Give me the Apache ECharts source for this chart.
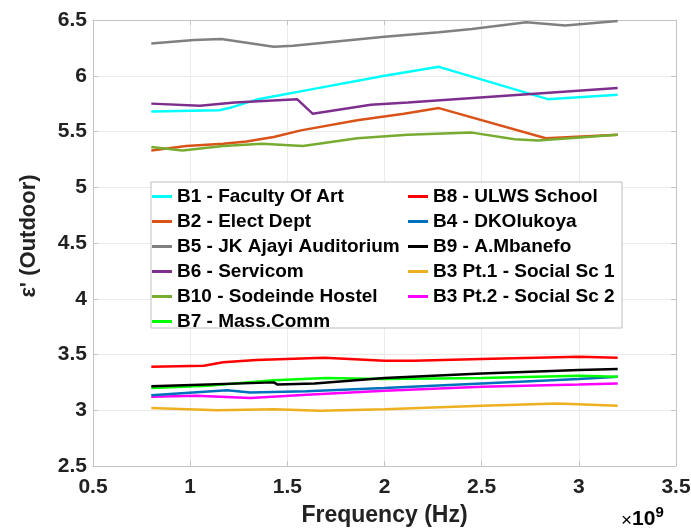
<!DOCTYPE html>
<html>
<head>
<meta charset="utf-8">
<script src="https://cdn.jsdelivr.net/npm/echarts@6/dist/echarts.min.js"></script>
<style>
  html, body { margin: 0; padding: 0; background: #fff; }
  #chart { width: 691px; height: 528px; }
</style>
</head>
<body>
<div id="chart"></div>
<script>
// Frequency in GHz (axis shows the x10^9 multiplier), permittivity values per building.
const b1 = [[0.8,5.68],[1.15,5.69],[1.2,5.71],[1.35,5.79],[1.63,5.88],[2.0,6.0],[2.28,6.08],[2.84,5.79],[3.2,5.83]];
const b2 = [[0.8,5.33],[0.98,5.37],[1.17,5.39],[1.29,5.41],[1.43,5.45],[1.57,5.51],[1.86,5.60],[2.1,5.66],[2.28,5.71],[2.83,5.44],[3.2,5.47]];
const b5 = [[0.8,6.29],[1.02,6.32],[1.16,6.33],[1.43,6.26],[1.53,6.27],[2.0,6.35],[2.28,6.39],[2.45,6.42],[2.73,6.48],[2.93,6.45],[3.2,6.49]];
const b6 = [[0.8,5.75],[1.05,5.73],[1.23,5.76],[1.55,5.79],[1.63,5.66],[1.93,5.74],[2.12,5.76],[3.2,5.89]];
const b10 = [[0.8,5.36],[0.96,5.33],[1.17,5.37],[1.37,5.39],[1.58,5.37],[1.86,5.44],[2.12,5.47],[2.45,5.49],[2.67,5.43],[2.79,5.42],[3.2,5.47]];
const b7 = [[0.8,3.20],[1.09,3.22],[1.43,3.27],[1.7,3.29],[2.0,3.28],[2.5,3.29],[3.0,3.31],[3.2,3.30]];
const b8 = [[0.8,3.39],[1.07,3.40],[1.17,3.43],[1.34,3.45],[1.69,3.47],[2.0,3.445],[2.15,3.445],[2.5,3.46],[3.0,3.48],[3.2,3.47]];
const b4 = [[0.8,3.135],[1.19,3.18],[1.31,3.16],[1.6,3.17],[2.0,3.20],[2.5,3.24],[3.0,3.28],[3.2,3.30]];
const b9 = [[0.8,3.215],[1.43,3.25],[1.45,3.23],[1.64,3.24],[2.0,3.29],[2.5,3.33],[3.0,3.36],[3.2,3.37]];
const b3p1 = [[0.8,3.02],[1.14,3.0],[1.43,3.01],[1.67,2.995],[2.0,3.01],[2.5,3.04],[2.89,3.06],[3.2,3.04]];
const b3p2 = [[0.8,3.12],[1.03,3.13],[1.31,3.11],[1.6,3.14],[2.0,3.175],[2.5,3.21],[3.0,3.23],[3.2,3.24]];

const namesLeft = ['B1 - Faculty Of Art','B2 - Elect Dept','B5 - JK Ajayi Auditorium','B6 - Servicom','B10 - Sodeinde Hostel','B7 - Mass.Comm'];
const namesRight = ['B8 - ULWS School','B4 - DKOlukoya','B9 - A.Mbanefo','B3 Pt.1 - Social Sc 1','B3 Pt.2 - Social Sc 2'];

const seriesDefs = [
  { name: namesLeft[0], data: b1, color: '#00FFFF' },
  { name: namesLeft[1], data: b2, color: '#D95319' },
  { name: namesLeft[2], data: b5, color: '#808080' },
  { name: namesLeft[3], data: b6, color: '#7E2F8E' },
  { name: namesLeft[4], data: b10, color: '#77AC30' },
  { name: namesRight[0], data: b8, color: '#FF0000' },
  { name: namesRight[3], data: b3p1, color: '#EDB120' },
  { name: namesRight[4], data: b3p2, color: '#FF00FF' },
  { name: namesRight[1], data: b4, color: '#0072BD' },
  { name: namesLeft[5], data: b7, color: '#00FF00' },
  { name: namesRight[2], data: b9, color: '#000000' }
];

const FONT = '"Liberation Sans", Arial, Helvetica, sans-serif';
const GRID = { left: 93, top: 20, right: 15, bottom: 62, containLabel: false, outerBoundsMode: 'none' };
const TEXT = '#222';

const axisCommon = {
  type: 'value',
  interval: 0.5,
  axisLine: { show: true, lineStyle: { color: '#c4c4c4', width: 1 } },
  axisTick: { show: true, inside: true, length: 5, lineStyle: { color: '#c4c4c4' } },
  splitLine: { show: true, lineStyle: { color: '#ebebeb', width: 1 } }
};

const legendCommon = {
  orient: 'vertical',
  padding: 0,
  itemWidth: 20,
  itemHeight: 3,
  itemGap: 6,
  icon: 'rect',
  selectedMode: false,
  textStyle: { fontFamily: FONT, fontWeight: 'bold', fontSize: 19, lineHeight: 18, color: '#000' }
};

const chart = echarts.init(document.getElementById('chart'), null, { renderer: 'canvas' });
chart.setOption({
  animation: false,
  backgroundColor: '#fff',
  grid: GRID,
  xAxis: [
    Object.assign({}, axisCommon, {
      min: 0.5, max: 3.5, position: 'bottom',
      name: 'Frequency (Hz)', nameLocation: 'middle', nameGap: 38,
      nameTextStyle: { fontFamily: FONT, fontWeight: 'bold', fontSize: 23, color: TEXT },
      axisLabel: { fontFamily: FONT, fontWeight: 'bold', fontSize: 21, color: TEXT, margin: 11 }
    }),
    Object.assign({}, axisCommon, {
      min: 0.5, max: 3.5, position: 'top', splitLine: { show: false },
      axisLabel: { show: false }
    })
  ],
  yAxis: [
    Object.assign({}, axisCommon, {
      min: 2.5, max: 6.5, position: 'left',
      name: "ε' (Outdoor)", nameLocation: 'middle', nameGap: 53,
      nameTextStyle: { fontFamily: FONT, fontWeight: 'bold', fontSize: 22, color: TEXT, padding: [0, 0, 0, 14] },
      axisLabel: { fontFamily: FONT, fontWeight: 'bold', fontSize: 21, color: TEXT, margin: 6 }
    }),
    Object.assign({}, axisCommon, {
      min: 2.5, max: 6.5, position: 'right', splitLine: { show: false },
      axisLabel: { show: false }
    })
  ],
  legend: [
    Object.assign({}, legendCommon, { left: 152, top: 187, data: namesLeft }),
    Object.assign({}, legendCommon, { left: 408, top: 187, data: namesRight })
  ],
  graphic: [
    {
      type: 'rect', z: 3,
      shape: { x: 151, y: 182, width: 471, height: 146 },
      style: { fill: '#fff', stroke: '#bdbdbd', lineWidth: 1 }
    },
    {
      type: 'text', z: 5, left: 621, top: 505,
      style: {
        text: '{a|×}{b|10}{c|9}',
        rich: {
          a: { fontFamily: FONT, fontSize: 19, color: TEXT, verticalAlign: 'bottom' },
          b: { fontFamily: FONT, fontWeight: 'bold', fontSize: 21, color: TEXT, verticalAlign: 'bottom' },
          c: { fontFamily: FONT, fontWeight: 'bold', fontSize: 15, color: TEXT, verticalAlign: 'top', padding: [0, 0, 10, 0] }
        }
      }
    }
  ],
  series: seriesDefs.map(s => ({
    name: s.name,
    type: 'line',
    data: s.data,
    showSymbol: false,
    symbol: 'none',
    color: s.color,
    lineStyle: { color: s.color, width: 2.5 },
    emphasis: { disabled: true }
  }))
});
</script>
</body>
</html>
